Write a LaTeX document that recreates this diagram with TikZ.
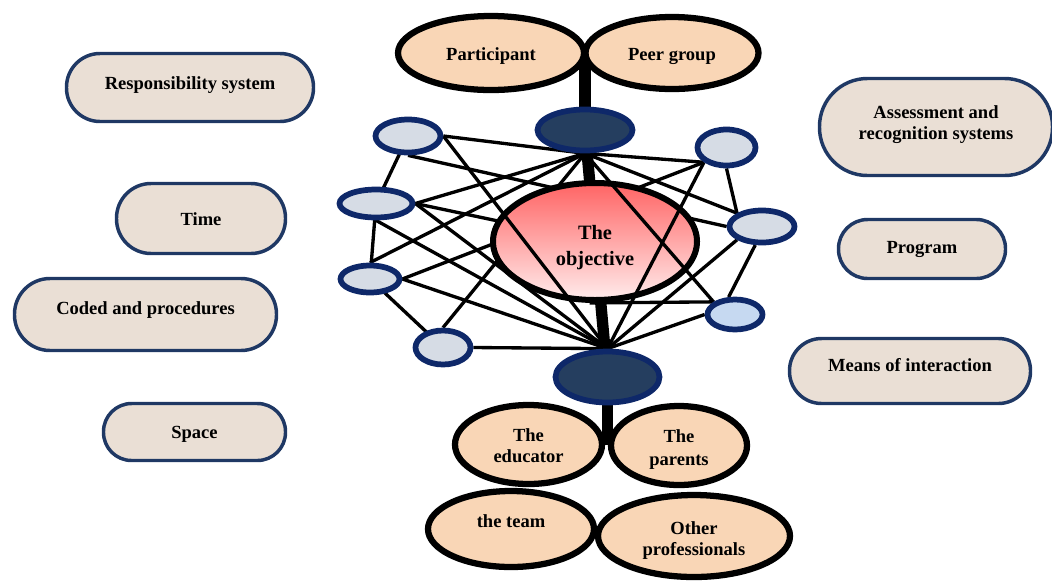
\documentclass[tikz,border=0pt]{standalone}
\usepackage{fontspec}
\setmainfont{Liberation Serif}
\usetikzlibrary{shapes.geometric}
\pgfdeclarelayer{back}
\pgfdeclarelayer{objl}
\pgfdeclarelayer{mid}
\pgfsetlayers{back,objl,mid,main}
\definecolor{pillfill}{RGB}{234,223,213}
\definecolor{pilldraw}{RGB}{31,56,100}
\definecolor{peach}{RGB}{249,214,182}
\definecolor{smallfill}{RGB}{214,220,229}
\definecolor{smallblue}{RGB}{198,217,241}
\definecolor{navy}{RGB}{14,40,105}
\definecolor{hubfill}{RGB}{37,62,95}
\definecolor{objtop}{RGB}{255,100,100}
\definecolor{objbot}{RGB}{255,236,236}
\newcommand{\mvtext}[2]{\raisebox{#1}[\height][\depth]{\begin{tabular}{@{}c@{}}#2\end{tabular}}}
\tikzset{
  txt/.style={font=\fontsize{13.9}{15.8}\selectfont\bfseries, align=center},
  pill/.style 2 args={draw=pilldraw, fill=pillfill, line width=2.6pt, txt, inner sep=0pt,
    minimum width=#1*0.75pt, minimum height=#2*0.75pt, rounded corners=#2*0.37pt},
  ell/.style 2 args={ellipse, inner sep=0pt, minimum width=#1*0.75pt, minimum height=#2*0.75pt},
  peachell/.style={draw=black, fill=peach, line width=4.7pt, txt},
  smallell/.style={draw=navy, fill=smallfill, line width=4.3pt},
  hub/.style={draw=navy, fill=hubfill, line width=4.3pt},
  link/.style={line width=2.5pt, black},
  bar/.style={line width=8.5pt, black}
}
\begin{document}
\begin{tikzpicture}[x=0.75pt,y=-0.75pt]
\useasboundingbox (0,0) rectangle (1052,583);
% pills
\node[pill={247}{68}] (resp) at (190,87.5) {\mvtext{1.5pt}{Responsibility system}};
\node[pill={169}{70}] (time) at (201,218.5) {\mvtext{-2.2pt}{Time}};
\node[pill={262}{72}] (coded) at (145.5,314.5) {\mvtext{3pt}{Coded and procedures}};
\node[pill={182}{57}] (space) at (194.5,432) {\mvtext{-1.5pt}{Space}};
\node[pill={233}{97}] (assess) at (936,127) {\mvtext{1.5pt}{Assessment and\\recognition systems}};
\node[pill={167}{59}] (prog) at (922,249) {Program};
\node[pill={241}{65}] (means) at (910,371) {\mvtext{3pt}{Means of interaction}};
% peach ellipses
\node[ell={186}{74}, peachell] (part) at (491,53) {\mvtext{-2.2pt}{Participant}};
\node[ell={173}{72}, peachell] (peer) at (672,53) {\mvtext{-2.2pt}{Peer group}};
\node[ell={147}{79}, peachell] (edu) at (528.5,444.5) {\mvtext{-2.2pt}{The\\educator}};
\node[ell={136}{79}, peachell] (par) at (679,445.5) {\mvtext{-3pt}{The\\[1.5pt]parents}};
\node[ell={166}{76}, peachell] (team) at (511,529) {\mvtext{4.5pt}{the team}};
\node[ell={192}{82}, peachell] (other) at (694,536) {\mvtext{-3.7pt}{Other\\professionals}};
% objective
\begin{pgfonlayer}{objl}
\node[ell={204}{117}, draw=black, line width=4.5pt, top color=objtop, bottom color=objbot,
  font=\fontsize{15.3}{18.8}\selectfont\bfseries, align=center] (obj) at (595,241.5) {\mvtext{-4.5pt}{The\\objective}};
\end{pgfonlayer}
% hubs
\node[ell={95}{41}, hub] (th) at (585,130) {};
\node[ell={104}{51}, hub] (bh) at (607.5,377) {};
% small ellipses
\node[ell={65}{33}, smallell] (tl) at (408,136) {};
\node[ell={73}{28}, smallell] (lm) at (376,203.5) {};
\node[ell={59}{27}, smallell] (ll) at (370,279) {};
\node[ell={55}{34}, smallell] (bl) at (443,347.5) {};
\node[ell={58}{36}, smallell] (tr) at (726.5,147.5) {};
\node[ell={65}{32}, smallell] (rm) at (762,226.5) {};
\node[ell={55}{30}, smallell, fill=smallblue] (rl) at (735,314.5) {};
% bars and lines behind objective
\begin{pgfonlayer}{back}
\draw[bar] (th.center) -- (th.center |- part.center);
\draw[bar] (th.center) -- (bh.center);
\draw[bar] (bh.center) -- (bh.center |- edu.center);
\draw[link] (tl.east) -- (th.south);
\draw[link] (tl.south) -- (rm.west);
\draw[link] (tl.center) -- (lm.center);
\draw[link] (lm.east) -- (th.south);
\draw[link] (lm.east) -- (obj.center);
\draw[link] (lm.east) -- (bh.north);
\draw[link] (lm.south) -- (bh.north);
\draw[link] (ll.center) -- (lm.center);
\draw[link] (ll.north) -- (th.south);
\draw[link] (ll.east) -- (tr.south west);
\draw[link] (ll.east) -- (bh.north);
\draw[link] (ll.center) -- (bl.center);
\draw[link] (bl.north) -- (th.south);
\draw[link] (bl.east) -- (bh.north);
\draw[link] (tr.south west) -- (th.south);
\draw[link] (tr.south) -- (rm.north west);
\draw[link] (th.south) -- (rm.north west);
\draw[link] (rm.250) -- (rl.110);
\draw[link] (rm.south west) -- (bh.north);
\draw[link] (rl.west) -- (bh.north);
\draw[link] (obj.265) -- (rl.north west);
\end{pgfonlayer}
% lines over objective
\begin{pgfonlayer}{mid}
\draw[link] (tl.east) -- (bh.north);
\draw[link] (tr.south west) -- (bh.north);
\draw[link] (th.south) -- (rl.north west);
\end{pgfonlayer}
\end{tikzpicture}
\end{document}
